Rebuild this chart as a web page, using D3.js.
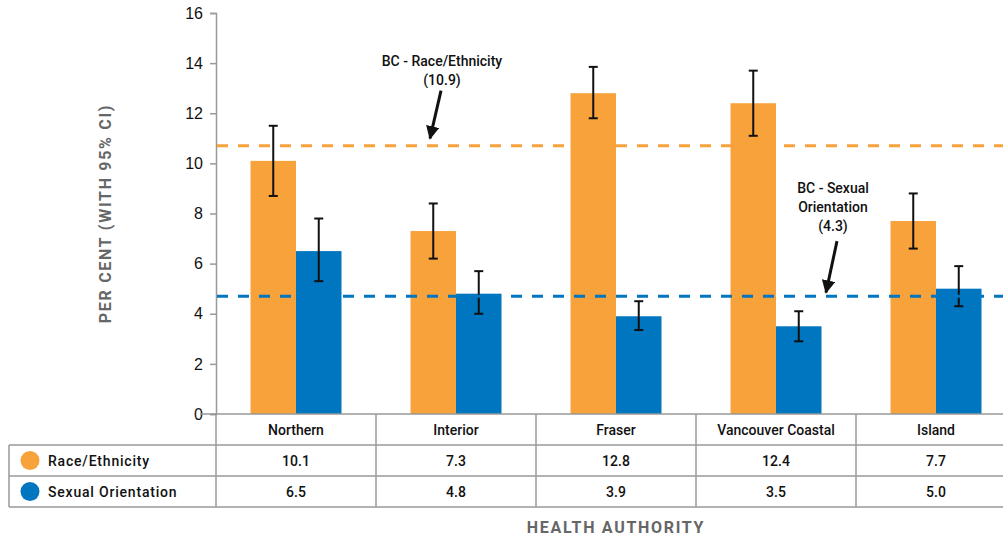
<!DOCTYPE html>
<html>
<head>
<meta charset="utf-8">
<script src="https://cdn.jsdelivr.net/npm/d3@7"></script>
<style>
  body { margin: 0; background: #fff; }
  svg { display: block; font-family: Roboto, "Noto Sans", sans-serif; }
</style>
</head>
<body>
<script>
const authorities = ["Northern", "Interior", "Fraser", "Vancouver Coastal", "Island"];
const seriesNames = ["Race/Ethnicity", "Sexual Orientation"];
const raceValues = [10.1, 7.3, 12.8, 12.4, 7.7];
const raceLow = [8.7, 6.2, 11.8, 11.1, 6.6];
const raceHigh = [11.5, 8.4, 13.85, 13.7, 8.8];
const sexValues = [6.5, 4.8, 3.9, 3.5, 5.0];
const sexLow = [5.3, 4.0, 3.35, 2.9, 4.3];
const sexHigh = [7.8, 5.7, 4.5, 4.1, 5.9];
const bcLines = [10.7, 4.7];
const bcLabels = [["BC - Race/Ethnicity", "(10.9)"], ["BC - Sexual", "Orientation", "(4.3)"]];
const yTicks = [0, 2, 4, 6, 8, 10, 12, 14, 16];

const colors = ["#f8a23c", "#0076c0"];
const W = 1003, H = 540;
const plotLeft = 216, plotTop = 13, plotBottom = 414, plotRight = 1016;
const rowH = 31;

const svg = d3.select("body").
append("svg").
attr("width", W).
attr("height", H);

const x = d3.scaleBand().
domain(authorities).
range([plotLeft, plotRight]);

const xSub = d3.scaleBand().
domain(seriesNames).
range([34.5, 125.5]);

const y = d3.scaleLinear().
domain([0, 16]).
range([plotBottom, plotTop]);

// y axis
const yAxis = d3.axisLeft(y).
tickValues(yTicks).
tickSize(6).
tickPadding(7);

const yg = svg.append("g").
attr("transform", "translate(" + plotLeft + ",0)").
call(yAxis);
yg.select(".domain").attr("stroke", "#999").attr("stroke-width", 1.5);
yg.selectAll(".tick line").attr("stroke", "#999").attr("stroke-width", 1.5);
yg.selectAll(".tick text").
attr("font-size", 16).
attr("font-weight", 500).
attr("fill", "#111");

svg.append("text").
attr("transform", "translate(111," + (plotTop + plotBottom) / 2 + ") rotate(-90)").
attr("text-anchor", "middle").
attr("font-size", 16).
attr("font-weight", 700).
attr("letter-spacing", 1.7).
attr("fill", "#666").
text("PER CENT (WITH 95% CI)");

// bars
const rows = authorities.map((a, i) => ({
  name: a,
  vals: [
  { s: seriesNames[0], v: raceValues[i], lo: raceLow[i], hi: raceHigh[i], c: colors[0] },
  { s: seriesNames[1], v: sexValues[i], lo: sexLow[i], hi: sexHigh[i], c: colors[1] }]
}));

const groups = svg.selectAll("g.grp").
data(rows).
enter().
append("g").
attr("class", "grp").
attr("transform", d => "translate(" + x(d.name) + ",0)");

groups.selectAll("rect").
data(d => d.vals).
enter().
append("rect").
attr("x", d => xSub(d.s)).
attr("y", d => y(d.v)).
attr("width", xSub.bandwidth()).
attr("height", d => plotBottom - y(d.v)).
attr("fill", d => d.c);

// dashed BC lines
svg.selectAll("line.bc").
data(bcLines).
enter().
append("line").
attr("class", "bc").
attr("x1", plotLeft + 1).
attr("x2", W).
attr("y1", d => y(d)).
attr("y2", d => y(d)).
attr("stroke", (d, i) => colors[i]).
attr("stroke-width", 3).
attr("stroke-dasharray", "11,10");

// error bars
const err = groups.selectAll("g.err").
data(d => d.vals).
enter().
append("g").
attr("class", "err").
attr("transform", d => "translate(" + (xSub(d.s) + xSub.bandwidth() / 2) + ",0)");

err.append("line").
attr("y1", d => y(d.lo)).
attr("y2", d => y(d.hi)).
attr("stroke", "#111").
attr("stroke-width", 2);

err.selectAll("line.cap").
data(d => [d.lo, d.hi]).
enter().
append("line").
attr("class", "cap").
attr("x1", -4.5).
attr("x2", 4.5).
attr("y1", d => y(d)).
attr("y2", d => y(d)).
attr("stroke", "#111").
attr("stroke-width", 2);

// annotations
svg.append("defs").
append("marker").
attr("id", "arrow").
attr("viewBox", "0 0 10 10").
attr("refX", 9).
attr("refY", 5).
attr("markerWidth", 4.5).
attr("markerHeight", 4.5).
attr("orient", "auto").
append("path").
attr("d", "M0,0L10,5L0,10z").
attr("fill", "#111");

const notes = [
{ band: "Interior", dx: 66, ty: 13.88, fx: 65, fy: 12.9, tx: 54, tyTip: 11.0, lines: bcLabels[0] },
{ band: "Vancouver Coastal", dx: 137, ty: 8.8, fx: 141, fy: 6.9, tx: 130, tyTip: 4.85, lines: bcLabels[1] }];

notes.forEach(n => {
  const bx = x(n.band);
  const t = svg.append("text").
  attr("text-anchor", "middle").
  attr("font-size", 14).
  attr("font-weight", 500).
  attr("fill", "#111");
  n.lines.forEach((l, i) => {
    t.append("tspan").
    attr("x", bx + n.dx).
    attr("y", y(n.ty) + i * 19).
    text(l);
  });
  svg.append("line").
  attr("x1", bx + n.fx).
  attr("y1", y(n.fy)).
  attr("x2", bx + n.tx).
  attr("y2", y(n.tyTip)).
  attr("stroke", "#111").
  attr("stroke-width", 3).
  attr("marker-end", "url(#arrow)");
});

// data table
const grid = svg.append("g").
attr("stroke", "#999").
attr("stroke-width", 1.5);

grid.append("line").
attr("x1", plotLeft - 16).attr("x2", W).
attr("y1", plotBottom).attr("y2", plotBottom);

[1, 2, 3].forEach(r => {
  grid.append("line").
  attr("x1", 9).
  attr("x2", W).
  attr("y1", plotBottom + r * rowH).
  attr("y2", plotBottom + r * rowH);
});

grid.append("line").
attr("x1", 9).attr("x2", 9).
attr("y1", plotBottom + rowH).attr("y2", plotBottom + 3 * rowH);

grid.selectAll("line.col").
data(authorities).
enter().
append("line").
attr("class", "col").
attr("x1", d => x(d)).
attr("x2", d => x(d)).
attr("y1", plotBottom).
attr("y2", plotBottom + 3 * rowH);

svg.selectAll("text.hdr").
data(authorities).
enter().
append("text").
attr("class", "hdr").
attr("x", d => x(d) + x.bandwidth() / 2).
attr("y", plotBottom + rowH / 2 + 5).
attr("text-anchor", "middle").
attr("font-size", 14).
attr("font-weight", 500).
attr("fill", "#111").
text(d => d);

const tableSeries = [raceValues, sexValues];
tableSeries.forEach((vals, r) => {
  const cy = plotBottom + rowH * (r + 1) + rowH / 2;
  svg.append("circle").
  attr("cx", 30).
  attr("cy", cy).
  attr("r", 9.5).
  attr("fill", colors[r]);
  svg.append("text").
  attr("x", 48).
  attr("y", cy + 5).
  attr("font-size", 14).
  attr("font-weight", 500).
  attr("letter-spacing", 0.8).
  attr("fill", "#111").
  text(seriesNames[r]);
  svg.selectAll("text.v" + r).
  data(vals).
  enter().
  append("text").
  attr("class", "v" + r).
  attr("x", (d, i) => x(authorities[i]) + x.bandwidth() / 2).
  attr("y", cy + 5).
  attr("text-anchor", "middle").
  attr("font-size", 14).
  attr("font-weight", 500).
  attr("fill", "#111").
  text(d => d.toFixed(1));
});

svg.append("text").
attr("x", (plotLeft + plotRight) / 2).
attr("y", 533).
attr("text-anchor", "middle").
attr("font-size", 16).
attr("font-weight", 700).
attr("letter-spacing", 1.7).
attr("fill", "#666").
text("HEALTH AUTHORITY");
</script>
</body>
</html>
